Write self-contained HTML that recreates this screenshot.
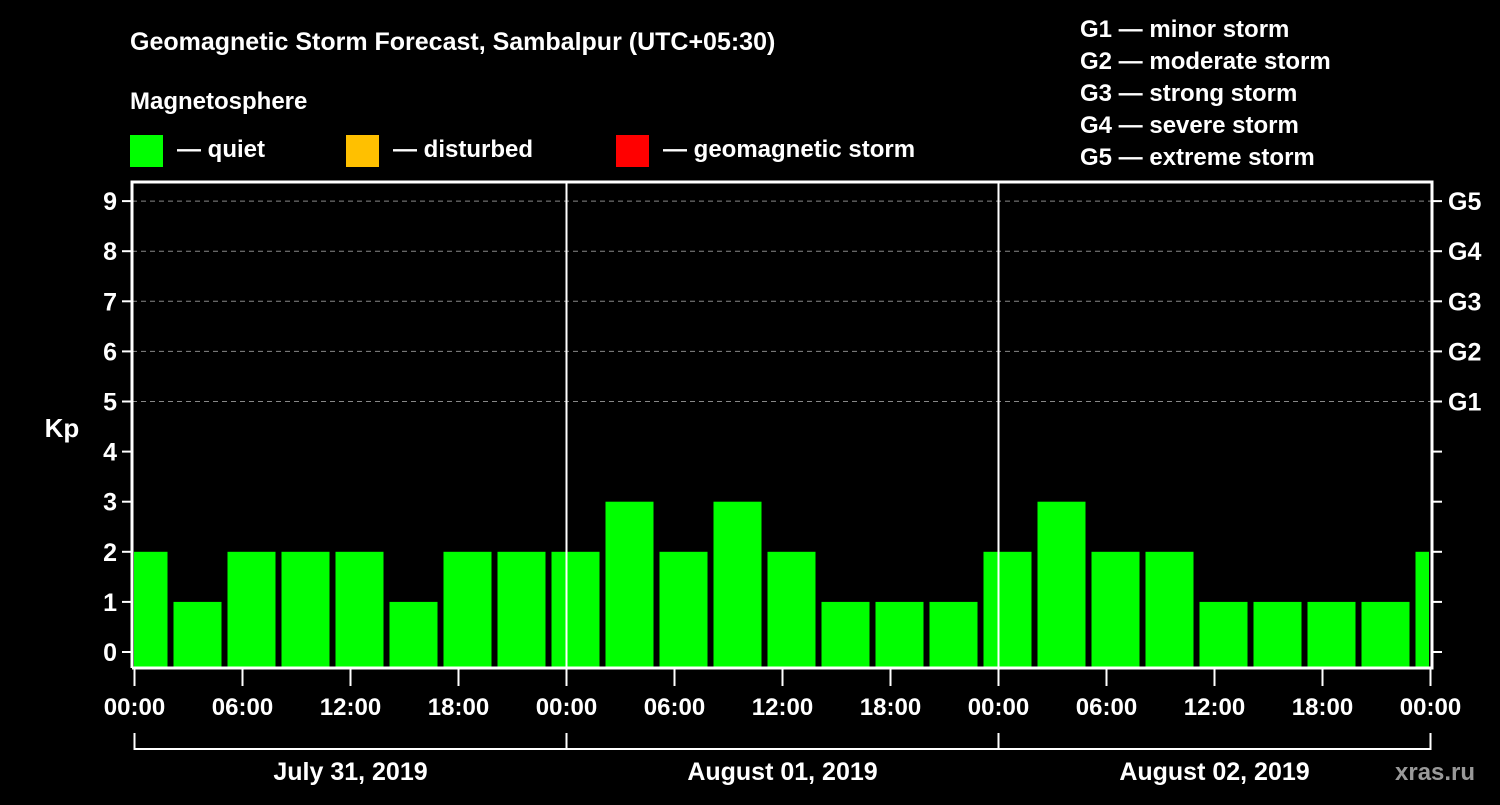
<!DOCTYPE html>
<html><head><meta charset="utf-8"><style>
body{margin:0;background:#000;width:1500px;height:800px;overflow:hidden;font-family:"Liberation Sans",sans-serif}
svg text{font-family:"Liberation Sans",sans-serif;font-weight:bold;fill:#fff}
</style></head><body>
<svg id="c" width="1500" height="800">
<text x="130" y="50" font-size="25">Geomagnetic Storm Forecast, Sambalpur (UTC+05:30)</text>
<text x="130" y="109" font-size="24">Magnetosphere</text>
<rect x="130" y="135" width="33" height="32" fill="#00ff00"/>
<text x="177" y="157" font-size="24">— quiet</text>
<rect x="346" y="135" width="33" height="32" fill="#ffc000"/>
<text x="393" y="157" font-size="24">— disturbed</text>
<rect x="616" y="135" width="33" height="32" fill="#ff0000"/>
<text x="663" y="157" font-size="24">— geomagnetic storm</text>
<g font-size="24">
<text x="1080" y="37">G1 — minor storm</text>
<text x="1080" y="69">G2 — moderate storm</text>
<text x="1080" y="101">G3 — strong storm</text>
<text x="1080" y="133">G4 — severe storm</text>
<text x="1080" y="165">G5 — extreme storm</text>
</g>
<text x="62" y="437" font-size="26" text-anchor="middle">Kp</text>
<g id="grid"></g><g id="bars"></g><g id="axes"></g>
<text x="1395" y="780" font-size="24" fill="#999" style="fill:#999">xras.ru</text>
</svg>
<script>
const kpValues=[2,1,2,2,2,1,2,2,2,3,2,3,2,1,1,1,2,3,2,2,1,1,1,1,2];
const yTicks=[0,1,2,3,4,5,6,7,8,9];
const gLabels=["G1","G2","G3","G4","G5"];
const timeLabels=["00:00","06:00","12:00","18:00","00:00","06:00","12:00","18:00","00:00","06:00","12:00","18:00","00:00"];
const dayLabels=["July 31, 2019","August 01, 2019","August 02, 2019"];
const NS="http://www.w3.org/2000/svg";
const L=132,R=1432,T=182,B=668,X0=134.5,DAY=432;
const y=v=>652-v*50.1;
const x=h=>X0+h*DAY/24;
function mk(p,tag,a,txt){const e=document.createElementNS(NS,tag);for(const k in a)e.setAttribute(k,a[k]);if(txt!=null)e.textContent=txt;document.getElementById(p)?document.getElementById(p).appendChild(e):p.appendChild(e);return e;}
// grid
yTicks.forEach(v=>{if(v>=5){const g=mk("grid","line",{x1:L,x2:R,y1:y(v),y2:y(v),stroke:"#888","stroke-dasharray":"5,4","stroke-width":1});

}});
// bars: 3h slots starting at 02:00 local offset
kpValues.forEach((v,i)=>{const s=x(2+3*(i-1)),e=x(2+3*i);let a=Math.max(s+3,L+2),b=Math.min(e-3,R-3);
const r=mk("bars","rect",{x:a,y:y(v),width:b-a,height:B-y(v),fill:v>=5?"#ff0000":v>=4?"#ffc000":"#00ff00"});

});
// axes
const fr=mk("axes","path",{d:`M${L} ${B}V${T}H${R}V${B}H${L}`,stroke:"#fff","stroke-width":3,fill:"none"});


[1,2].forEach(d=>{const l=mk("axes","line",{x1:x(24*d),x2:x(24*d),y1:T,y2:B,stroke:"#fff","stroke-width":2});

});
yTicks.forEach(v=>{mk("axes","line",{x1:L-10,x2:L,y1:y(v),y2:y(v),stroke:"#fff","stroke-width":2});
mk("axes","line",{x1:R,x2:R+10,y1:y(v),y2:y(v),stroke:"#fff","stroke-width":2});
const t=mk("axes","text",{x:L-15,y:y(v)+9,"font-size":25,"text-anchor":"end"},v);

});
gLabels.forEach((g,i)=>{const t=mk("axes","text",{x:1448,y:y(5+i)+9,"font-size":25},g);

});
timeLabels.forEach((lb,i)=>{const xx=x(6*i);mk("axes","line",{x1:xx,x2:xx,y1:B,y2:B+18,stroke:"#fff","stroke-width":2});
const t=mk("axes","text",{x:xx,y:715,"font-size":24,"text-anchor":"middle"},lb);

});
mk("axes","line",{x1:x(0),x2:x(72),y1:749,y2:749,stroke:"#fff","stroke-width":2});
[0,1,2,3].forEach(d=>mk("axes","line",{x1:x(24*d),x2:x(24*d),y1:733,y2:750,stroke:"#fff","stroke-width":2}));
dayLabels.forEach((lb,i)=>{const t=mk("axes","text",{x:x(24*i+12),y:780,"font-size":25,"text-anchor":"middle"},lb);

});
</script>
</body></html>
